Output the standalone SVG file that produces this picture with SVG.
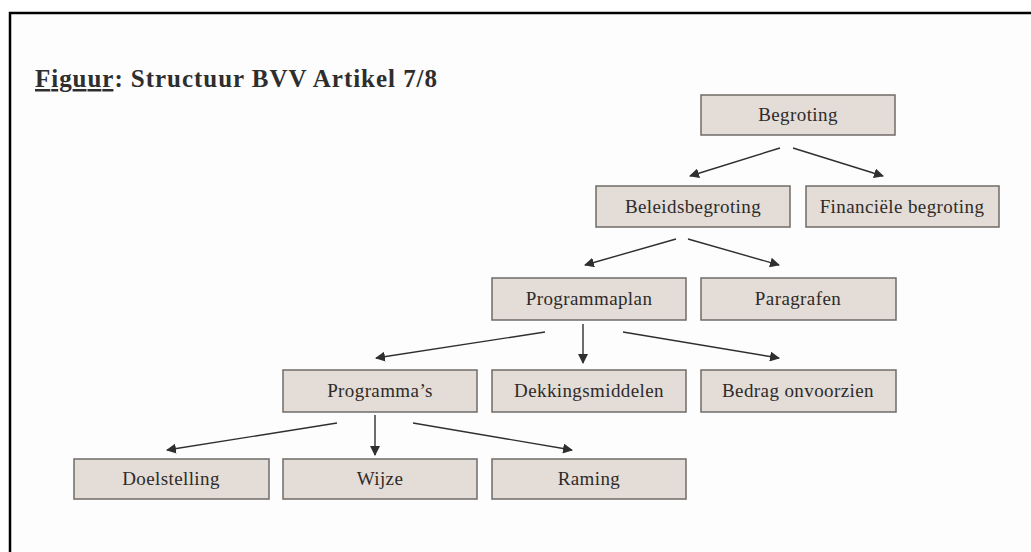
<svg xmlns="http://www.w3.org/2000/svg" width="1031" height="552" viewBox="0 0 1031 552">
<style>
.box{fill:#e3dcd7;stroke:#6f6b68;stroke-width:1.5}
.lbl{font-family:"Liberation Serif",serif;font-size:19px;letter-spacing:0.4px;fill:#2e2b29;text-anchor:middle}
.con{stroke:#2f2f2f;stroke-width:1.4;fill:none;marker-end:url(#ah)}
.title{font-family:"Liberation Serif",serif;font-size:25px;font-weight:bold;fill:#2e2e2e}
</style>
<defs>
<marker id="ah" viewBox="0 0 10 10" refX="9" refY="5" markerWidth="10" markerHeight="10" markerUnits="userSpaceOnUse" orient="auto">
<path d="M0,0 L10,5 L0,10 z" fill="#2f2f2f"/>
</marker>
</defs>
<rect x="0" y="0" width="1031" height="552" fill="#ffffff"/>
<rect x="10" y="13" width="1021" height="539" fill="#fdfdfd"/>
<path d="M10,552 V13 H1031" fill="none" stroke="#000" stroke-width="2.5"/>
<text class="title" x="35" y="87" textLength="402" lengthAdjust="spacing"><tspan text-decoration="underline">Figuur</tspan>: Structuur BVV Artikel 7/8</text>

<g id="connectors">
<line class="con" x1="780" y1="148" x2="690" y2="176"/>
<line class="con" x1="793" y1="148" x2="883" y2="176"/>
<line class="con" x1="676" y1="239" x2="585" y2="265"/>
<line class="con" x1="688" y1="239" x2="779" y2="265"/>
<line class="con" x1="545" y1="332" x2="376" y2="358"/>
<line class="con" x1="583" y1="324" x2="583" y2="363"/>
<line class="con" x1="623" y1="332" x2="779" y2="358"/>
<line class="con" x1="337" y1="423" x2="167" y2="450"/>
<line class="con" x1="375" y1="415" x2="375" y2="455"/>
<line class="con" x1="413" y1="423" x2="572" y2="450"/>
</g>

<g id="begroting"><rect class="box" x="701" y="95" width="194" height="40"/><text class="lbl" x="798" y="121">Begroting</text></g>
<g id="beleidsbegroting"><rect class="box" x="596" y="186" width="194" height="41"/><text class="lbl" x="693" y="213">Beleidsbegroting</text></g>
<g id="financiele-begroting"><rect class="box" x="806" y="186" width="193" height="41"/><text class="lbl" x="902" y="213">Financiële begroting</text></g>
<g id="programmaplan"><rect class="box" x="492" y="278" width="194" height="42"/><text class="lbl" x="589" y="305">Programmaplan</text></g>
<g id="paragrafen"><rect class="box" x="701" y="278" width="195" height="42"/><text class="lbl" x="798" y="305">Paragrafen</text></g>
<g id="programmas"><rect class="box" x="283" y="370" width="194" height="42"/><text class="lbl" x="380" y="397">Programma’s</text></g>
<g id="dekkingsmiddelen"><rect class="box" x="492" y="370" width="194" height="42"/><text class="lbl" x="589" y="397">Dekkingsmiddelen</text></g>
<g id="bedrag-onvoorzien"><rect class="box" x="701" y="370" width="195" height="42"/><text class="lbl" x="798" y="397">Bedrag onvoorzien</text></g>
<g id="doelstelling"><rect class="box" x="74" y="459" width="195" height="40"/><text class="lbl" x="171" y="485">Doelstelling</text></g>
<g id="wijze"><rect class="box" x="283" y="459" width="194" height="40"/><text class="lbl" x="380" y="485">Wijze</text></g>
<g id="raming"><rect class="box" x="492" y="459" width="194" height="40"/><text class="lbl" x="589" y="485">Raming</text></g>
</svg>
